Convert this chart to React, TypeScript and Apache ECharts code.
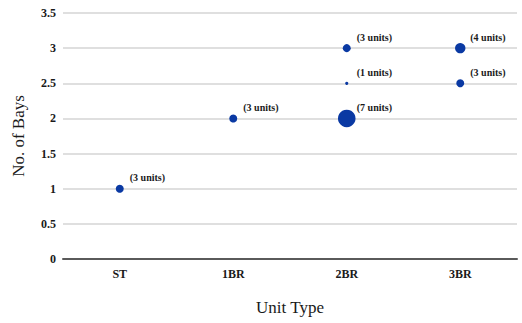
import React, { useEffect, useRef } from "react";
import * as echarts from "echarts";

const categories = ["ST", "1BR", "2BR", "3BR"];
const pointCategory = ["ST", "1BR", "2BR", "2BR", "2BR", "3BR", "3BR"];
const pointBays = [1, 2, 3, 2.5, 2, 3, 2.5];
const pointUnits = [3, 3, 3, 1, 7, 4, 3];
const yTicks = { min: 0, max: 3.5, interval: 0.5 };

const FONT = "'Liberation Serif', 'Times New Roman', serif";

export default function App() {
  const ref = useRef<HTMLDivElement>(null);
  useEffect(() => {
    if (!ref.current) return;
    const chart = echarts.init(ref.current, null, { renderer: "svg" });
    const data = pointCategory.map((c, i) => [c, pointBays[i], pointUnits[i]]);
    chart.setOption({
      animation: false,
      backgroundColor: "#ffffff",
      grid: { left: 63, right: 5, top: 13, bottom: 64 },
      xAxis: {
        type: "category",
        data: categories,
        boundaryGap: true,
        name: "Unit Type",
        nameLocation: "middle",
        nameGap: 40,
        nameTextStyle: { fontFamily: FONT, fontSize: 17, color: "#1a1a1a" },
        axisLine: { lineStyle: { color: "#5a5a5a", width: 2 } },
        axisTick: { show: false },
        axisLabel: { fontFamily: FONT, fontSize: 12, fontWeight: "bold", color: "#1a1a1a", margin: 9 },
        splitLine: { show: false },
      },
      yAxis: {
        type: "value",
        min: yTicks.min,
        max: yTicks.max,
        interval: yTicks.interval,
        name: "No. of Bays",
        nameLocation: "middle",
        nameGap: 36,
        nameTextStyle: { fontFamily: FONT, fontSize: 17, color: "#1a1a1a" },
        axisLine: { show: false },
        axisTick: { show: false },
        axisLabel: { fontFamily: FONT, fontSize: 12, fontWeight: "bold", color: "#1a1a1a", margin: 7 },
        splitLine: { lineStyle: { color: "#d4d4d4", width: 1.5 } },
      },
      series: [
        {
          type: "scatter",
          data,
          symbolSize: (v: any) => 2.4 * v[2] + 0.8,
          itemStyle: { color: "#0a39a3", opacity: 1 },
          label: {
            show: true,
            position: "inside",
            align: "left",
            verticalAlign: "middle",
            offset: [10, -11],
            formatter: (p: any) => `(${p.value[2]} units)`,
            fontFamily: FONT,
            fontSize: 10,
            fontWeight: "bold",
            color: "#1a1a1a",
          },
        },
      ],
    });
    return () => chart.dispose();
  }, []);
  return <div ref={ref} style={{ width: 522, height: 323, position: "absolute", left: 0, top: 0 }} />;
}
